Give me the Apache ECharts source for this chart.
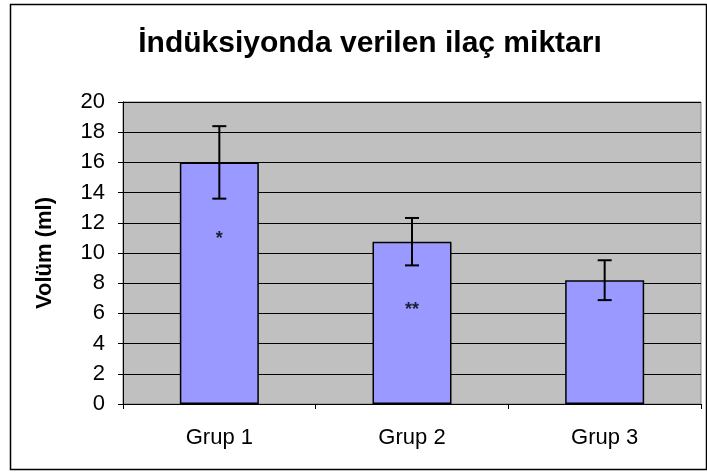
<!DOCTYPE html>
<html>
<head>
<meta charset="utf-8">
<script src="https://cdn.jsdelivr.net/npm/echarts@6/dist/echarts.min.js"></script>
<style>
  html, body { margin: 0; padding: 0; background: #fff; }
  #chart { width: 707px; height: 473px; }
</style>
</head>
<body>
<div id="chart"></div>
<script>
const categories = ['Grup 1', 'Grup 2', 'Grup 3']
const means = [16.0, 10.75, 8.2]
const errors = [2.4, 1.57, 1.32]
const starMarks = [['Grup 1', 10.9, '*'], ['Grup 2', 6.2, '**']]
const yTicks = { min: 0, max: 20, interval: 2 }

const chart = echarts.init(document.getElementById('chart'))
const font = 'Liberation Sans, Arial, sans-serif'

const errData = categories.map((c, i) => [i, means[i] - errors[i], means[i] + errors[i]])

chart.setOption({
  animation: false,
  title: {
    text: 'İndüksiyonda verilen ilaç miktarı',
    left: 365, top: 24, textAlign: 'center',
    textStyle: { fontFamily: font, fontSize: 30, fontWeight: 'bold', color: '#000' },
  },
  graphic: [{
    type: 'rect', left: 8, top: 2, z: -1,
    shape: { width: 696, height: 465 },
    style: { fill: 'none', stroke: '#000', lineWidth: 1.5 },
  }],
  grid: { left: 123, right: 6, top: 102, bottom: 69, show: true, backgroundColor: '#c0c0c0', borderColor: '#808080', borderWidth: 1 },
  xAxis: {
    type: 'category', data: categories,
    axisLine: { lineStyle: { color: '#000', width: 1 } },
    axisTick: { show: true, length: 5, lineStyle: { color: '#000' } },
    axisLabel: { fontFamily: font, fontSize: 22, color: '#000', margin: 23 },
  },
  yAxis: {
    type: 'value', min: yTicks.min, max: yTicks.max, interval: yTicks.interval,
    name: 'Volüm (ml)', nameLocation: 'middle', nameGap: 67, nameRotate: 90,
    nameTextStyle: { fontFamily: font, fontSize: 22, fontWeight: 'bold', color: '#000' },
    axisLine: { show: true, lineStyle: { color: '#000' } },
    axisTick: { show: true, length: 5, lineStyle: { color: '#000' } },
    axisLabel: { fontFamily: font, fontSize: 22, color: '#000', margin: 18 },
    splitLine: { lineStyle: { color: '#000', width: 1 } },
  },
  series: [
    {
      type: 'bar', data: means, barWidth: '41%',
      itemStyle: { color: '#9999ff', borderColor: '#000', borderWidth: 1.5 },
    },
    {
      type: 'custom', data: errData, z: 5,
      renderItem(params, api) {
        const x = api.value(0)
        const lo = api.coord([x, api.value(1)])
        const hi = api.coord([x, api.value(2)])
        const w = 7
        const st = { stroke: '#000', lineWidth: 2 }
        return {
          type: 'group', children: [
            { type: 'line', shape: { x1: hi[0], y1: hi[1], x2: lo[0], y2: lo[1] }, style: st },
            { type: 'line', shape: { x1: hi[0] - w, y1: hi[1], x2: hi[0] + w, y2: hi[1] }, style: st },
            { type: 'line', shape: { x1: lo[0] - w, y1: lo[1], x2: lo[0] + w, y2: lo[1] }, style: st },
          ],
        }
      },
    },
    {
      type: 'scatter', symbolSize: 0, z: 6,
      data: starMarks.map(d => ({ value: [d[0], d[1]], label: { formatter: d[2] } })),
      label: { show: true, position: 'inside', fontFamily: font, fontSize: 18, fontWeight: 'bold', color: '#000' },
    },
  ],
})
</script>
</body>
</html>
